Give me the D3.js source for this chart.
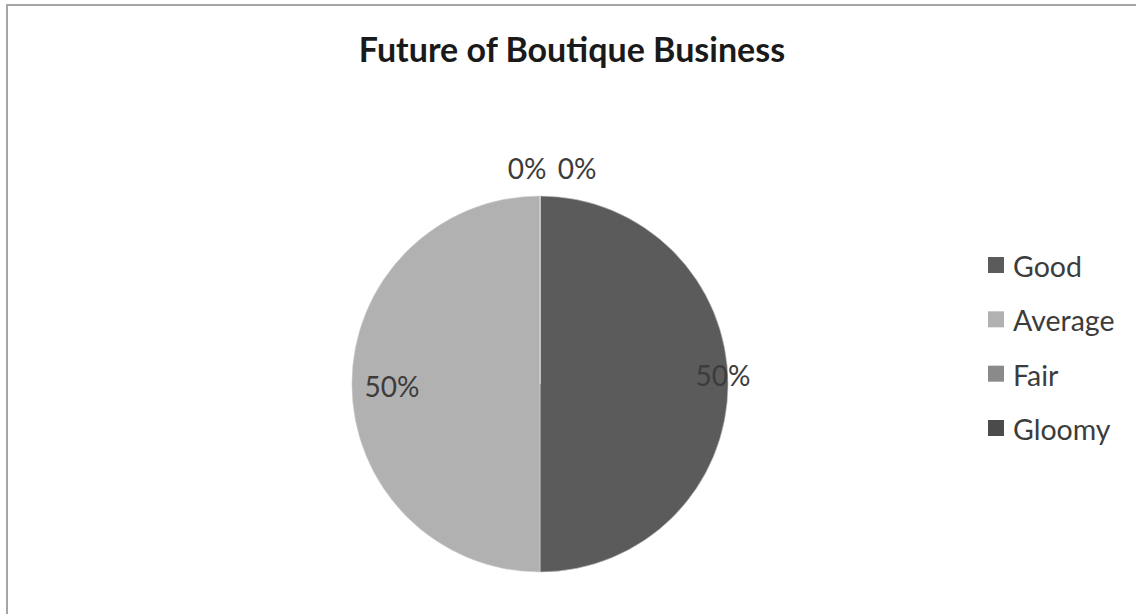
<!DOCTYPE html>
<html>
<head>
<meta charset="utf-8">
<script src="https://cdn.jsdelivr.net/npm/d3@7"></script>
<style>
  html, body { margin: 0; padding: 0; background: #fff; }
  svg { display: block; }
  text { font-family: Lato, "Open Sans", sans-serif; }
</style>
</head>
<body>
<svg id="chart" width="1136" height="614"></svg>
<script>
// Survey responses: outlook for the boutique business
const categories = ["Good", "Average", "Fair", "Gloomy"];
const values = [50, 50, 0, 0];
const sliceColors = ["#5b5b5b", "#b1b1b1", "#8a8a8a", "#4b4b4b"];
const chartTitle = "Future of Boutique Business";

const width = 1136, height = 614;
const svg = d3.select("#chart");

// Chart area frame (top and left edges visible)
svg.append("path")
  .attr("d", `M7,${height} L7,5 L${width},5`)
  .attr("fill", "none")
  .attr("stroke", "#a6a6a6")
  .attr("stroke-width", 2);

// Title
svg.append("text")
  .attr("x", 572)
  .attr("y", 62)
  .attr("text-anchor", "middle")
  .attr("font-size", 34)
  .attr("font-weight", "bold")
  .attr("fill", "#1a1a1a")
  .text(chartTitle);

// Pie
const cx = 540, cy = 384, r = 188;
const data = categories.map((c, i) => ({ name: c, value: values[i], color: sliceColors[i] }));
const pie = d3.pie().value(d => d.value).sort(null);
const arcs = pie(data);
const arc = d3.arc().innerRadius(0).outerRadius(r);

const g = svg.append("g").attr("transform", `translate(${cx},${cy})`);
g.selectAll("path.slice")
  .data(arcs)
  .join("path")
  .attr("class", "slice")
  .attr("d", arc)
  .attr("fill", d => d.data.color)
  .attr("stroke", "#d0d0d0")
  .attr("stroke-width", 0.6);

// Percentage labels
const total = d3.sum(values);
const fmt = v => Math.round(v / total * 100) + "%";
// label placement per slice: radius from centre, horizontal/vertical nudge
const labelPlace = [
  { rad: 183, dx: 0, dy: -9 },
  { rad: 148, dx: 0, dy: 2 },
  { rad: 216, dx: -13, dy: 0 },
  { rad: 216, dx: 37, dy: 0 }
];
g.selectAll("text.pct")
  .data(arcs)
  .join("text")
  .attr("class", "pct")
  .attr("x", (d, i) => {
    const a = (d.startAngle + d.endAngle) / 2;
    return Math.sin(a) * labelPlace[i].rad + labelPlace[i].dx;
  })
  .attr("y", (d, i) => {
    const a = (d.startAngle + d.endAngle) / 2;
    return -Math.cos(a) * labelPlace[i].rad + labelPlace[i].dy;
  })
  .attr("text-anchor", "middle")
  .attr("dominant-baseline", "central")
  .attr("font-size", 28)
  .attr("fill", "#3c3c3c")
  .text(d => fmt(d.data.value));

// Legend
const legendY = d3.scalePoint().domain(categories).range([265, 428]);
const legend = svg.append("g");
const rows = legend.selectAll("g.item")
  .data(data)
  .join("g")
  .attr("class", "item")
  .attr("transform", d => `translate(988,${legendY(d.name)})`);
rows.append("rect")
  .attr("x", 0).attr("y", -8)
  .attr("width", 16).attr("height", 16)
  .attr("fill", d => d.color);
rows.append("text")
  .attr("x", 25)
  .attr("y", 1)
  .attr("dominant-baseline", "central")
  .attr("font-size", 28.5)
  .attr("fill", "#3c3c3c")
  .text(d => d.name);
</script>
</body>
</html>
